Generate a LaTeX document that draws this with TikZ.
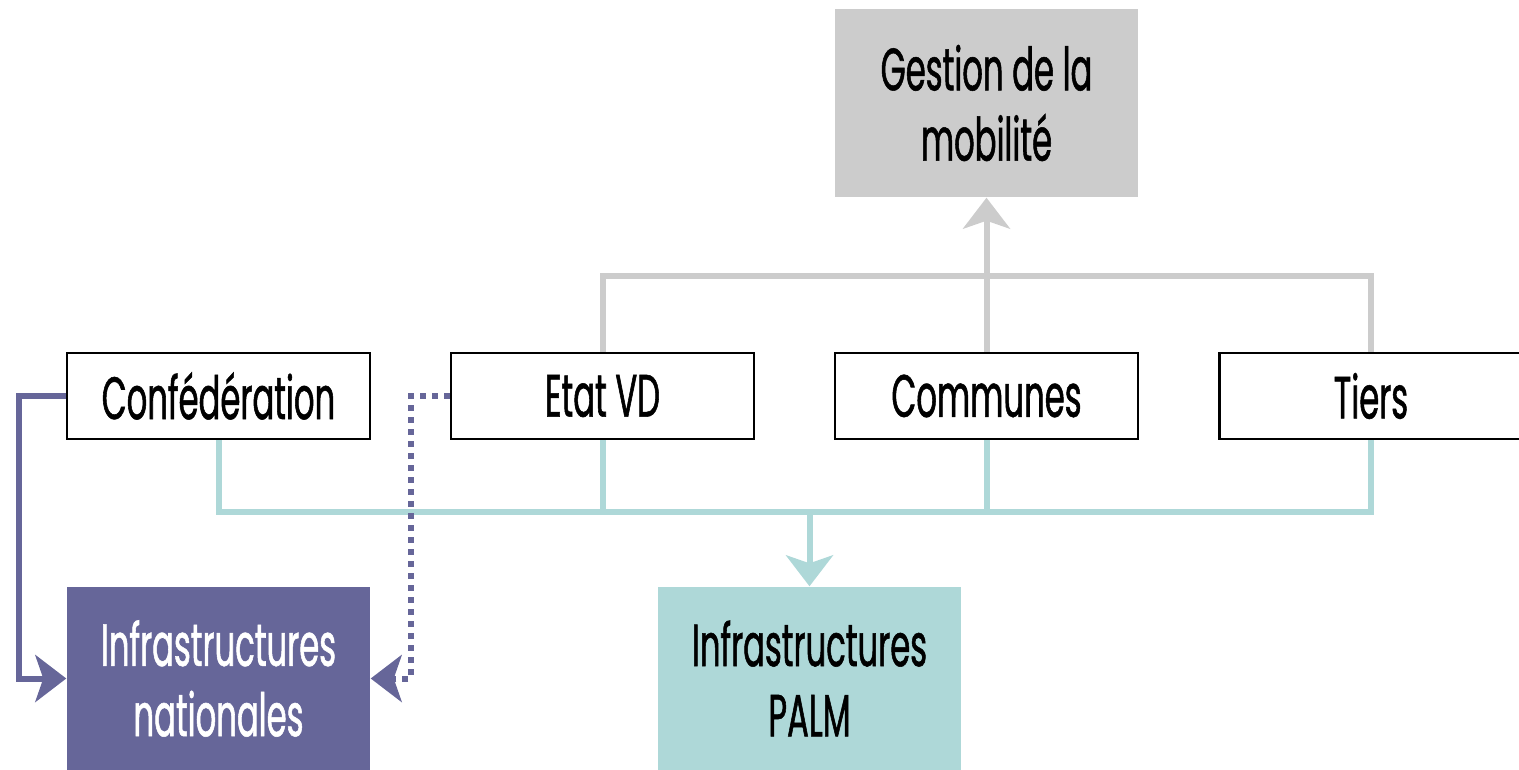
\documentclass[tikz,border=0pt]{standalone}
\usepackage{fontspec}
\setmainfont[FakeStretch=0.54, FakeBold=0.9]{Poppins}
\usetikzlibrary{arrows.meta}
\definecolor{mobgray}{HTML}{CCCCCC}
\definecolor{palmteal}{HTML}{AED8D8}
\definecolor{natpurple}{HTML}{666699}
\begin{document}
\begin{tikzpicture}[x=0.1mm, y=-0.1mm,
    box/.style={minimum width=30.3mm, inner sep=0pt, align=center, font=\fontsize{17}{20}\selectfont},
    actor/.style={box, draw=black, line width=0.22mm, fill=white, minimum height=8.6mm},
    link/.style={line width=0.6mm},
    tip/.style={-{Stealth[length=3.1mm, width=4.7mm, inset=0.8mm]}}]
\useasboundingbox (0,0) rectangle (1519,770);

% Set the bars the connectors run along
\coordinate (gbar) at (0,276);
\coordinate (pbar) at (0,512);
\coordinate (lcol) at (19,0);
\coordinate (dcol) at (411,0);

% Draw the result boxes
\node[box, fill=mobgray, minimum height=18.8mm] (gestion) at (986.5,103) {Gestion de la\\mobilité};
\node[box, fill=natpurple, text=white, minimum height=18.3mm] (nat) at (218.5,678.5) {Infrastructures\\nationales};
\node[box, fill=palmteal, minimum height=18.3mm] (palm) at (809.5,678.5) {Infrastructures\\PALM};

% Draw the actors
\node[actor] (conf) at (218.5,396) {Confédération};
\node[actor] (etat) at (602.5,396) {Etat VD};
\node[actor] (communes) at (986.5,396) {Communes};
\node[actor] (tiers) at (1371,396) {Tiers};

% Gestion de la mobilite
\draw[link, mobgray] (etat.north) -- (etat.north |- gbar) -| (tiers.north);
\draw[link, mobgray, tip] (communes.north) -- (gestion.south);

% Infrastructures PALM
\draw[link, palmteal] (conf.south) |- (tiers.south |- pbar) -- (tiers.south);
\draw[link, palmteal] (etat.south) -- (etat.south |- pbar);
\draw[link, palmteal] (communes.south) -- (communes.south |- pbar);
\draw[link, palmteal, tip] (palm.north |- pbar) -- (palm.north);

% Infrastructures nationales
\draw[link, natpurple, tip] (conf.west) -- (conf.west -| lcol) |- (nat.west);
\draw[link, natpurple, tip, dash pattern=on 0.6mm off 0.6mm] (etat.west) -- (etat.west -| dcol) |- (nat.east);
\end{tikzpicture}
\end{document}
